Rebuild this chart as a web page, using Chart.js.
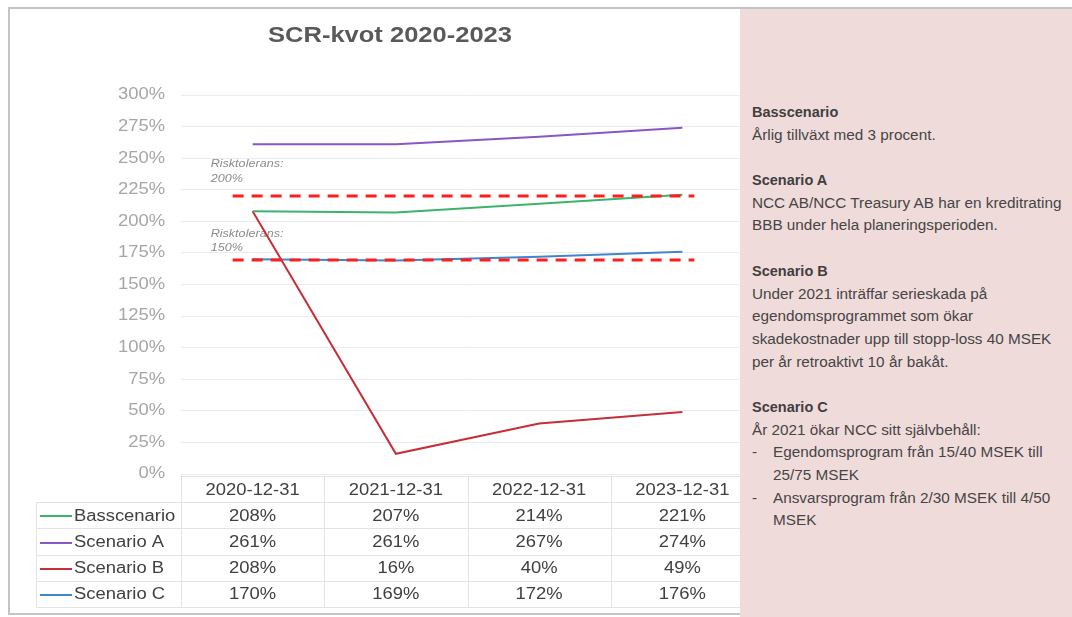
<!DOCTYPE html>
<html lang="sv">
<head>
<meta charset="utf-8">
<title>SCR-kvot 2020-2023</title>
<script src="https://cdn.jsdelivr.net/npm/chart.js@4.4.1/dist/chart.umd.min.js"></script>
<style>
  html, body { margin: 0; padding: 0; background: #fff; }
  body { width: 1072px; height: 617px; position: relative; overflow: hidden; font-family: "Liberation Sans", Arial, sans-serif; }
  #frame { position: absolute; left: 8px; top: 7px; width: 1080px; height: 608px; border: 2px solid #c4c4c4; box-sizing: border-box; }
  #chartBox { position: absolute; left: 0; top: 0; width: 760px; height: 617px; }
  #notes { position: absolute; left: 740px; top: 9px; width: 332px; height: 608px; background: #f0dbdb; color: #454545; box-sizing: border-box; padding: 92px 0 0 12px; }
  #notes div { height: 22.7px; line-height: 22.7px; white-space: nowrap; font-family: "Liberation Sans", Arial, sans-serif; font-size: 15.3px; }
  #notes div.h { font-weight: bold; font-size: 14.5px; color: #3f3f3f; }
  #notes div.b { position: relative; padding-left: 21px; }
  #notes div.b span { position: absolute; left: 0; }
</style>
</head>
<body>
<div id="frame"></div>
<div id="chartBox"><canvas id="scrChart" width="760" height="617"></canvas></div>
<div id="notes">
  <div class="h">Basscenario</div>
  <div>Årlig tillväxt med 3 procent.</div>
  <div></div>
  <div class="h">Scenario A</div>
  <div>NCC AB/NCC Treasury AB har en kreditrating</div>
  <div>BBB under hela planeringsperioden.</div>
  <div></div>
  <div class="h">Scenario B</div>
  <div>Under 2021 inträffar serieskada på</div>
  <div>egendomsprogrammet som ökar</div>
  <div>skadekostnader upp till stopp-loss 40 MSEK</div>
  <div>per år retroaktivt 10 år bakåt.</div>
  <div></div>
  <div class="h">Scenario C</div>
  <div>År 2021 ökar NCC sitt självbehåll:</div>
  <div class="b"><span>-</span>Egendomsprogram från 15/40 MSEK till</div>
  <div class="b">25/75 MSEK</div>
  <div class="b"><span>-</span>Ansvarsprogram från 2/30 MSEK till 4/50</div>
  <div class="b">MSEK</div>
</div>

<script>
// --- data ---
const categories = ['2020-12-31', '2021-12-31', '2022-12-31', '2023-12-31'];
const seriesNames = ['Basscenario', 'Scenario A', 'Scenario B', 'Scenario C'];
const basscenario = [208, 207, 214, 221];
const scenarioA = [261, 261, 267, 274];
const scenarioB = [208, 16, 40, 49];
const scenarioC = [170, 169, 172, 176];
const yTicks = [0, 25, 50, 75, 100, 125, 150, 175, 200, 225, 250, 275, 300];
const riskLevels = [220, 169];
const riskLabels = [['Risktolerans:', '200%'], ['Risktolerans:', '150%']];

const seriesValues = [basscenario, scenarioA, scenarioB, scenarioC];
const seriesColors = ['#3cb36a', '#8a55c4', '#c62f38', '#3f86cc'];

const TEXT = '#404040';
const FONT = '"Liberation Sans", Arial, sans-serif';
const STRETCH = 1.15; // originalet är lite utdraget i bredd

// text med horisontell skalning
function drawText(ctx, text, x, y, align, sx) {
  ctx.save();
  ctx.translate(x, y);
  ctx.scale(sx || STRETCH, 1);
  ctx.textAlign = align;
  ctx.fillText(text, 0, 0);
  ctx.restore();
}

// titel, y-etiketter, risknivåer och datatabell ritas av en egen plugin
const decorPlugin = {
  id: 'decor',
  beforeDatasetsDraw(chart) {
    const ctx = chart.ctx;
    const x = chart.scales.x, y = chart.scales.y;
    ctx.save();
    ctx.textBaseline = 'middle';

    // y-axelns etiketter
    ctx.fillStyle = '#a6a6a6';
    ctx.font = '16px ' + FONT;
    yTicks.forEach(v => {
      drawText(ctx, v + '%', chart.chartArea.left - 16, y.getPixelForValue(v), 'right');
    });

    // risktolerans-texter
    ctx.fillStyle = '#8c8c8c';
    ctx.font = 'italic 10.5px ' + FONT;
    const offsets = [[-32, -17], [-26, -12]];
    riskLevels.forEach((lvl, i) => {
      const py = y.getPixelForValue(lvl);
      const px = x.getPixelForValue(0) - 42;
      drawText(ctx, riskLabels[i][0], px, py + offsets[i][0], 'left', 1.2);
      drawText(ctx, riskLabels[i][1], px, py + offsets[i][1], 'left', 1.2);
    });
    ctx.restore();
  },
  afterDatasetsDraw(chart) {
    const ctx = chart.ctx;
    const x = chart.scales.x, y = chart.scales.y;
    ctx.save();
    ctx.strokeStyle = '#ff1e1e';
    ctx.lineWidth = 3;
    ctx.setLineDash([11, 8]);
    riskLevels.forEach(lvl => {
      const py = Math.round(y.getPixelForValue(lvl));
      ctx.beginPath();
      ctx.moveTo(x.getPixelForValue(0) - 20, py);
      ctx.lineTo(x.getPixelForValue(categories.length - 1) + 12, py);
      ctx.stroke();
    });
    ctx.restore();
  },
  afterDraw(chart) {
    const ctx = chart.ctx;
    const area = chart.chartArea;
    const x = chart.scales.x;
    ctx.save();

    // titel
    ctx.fillStyle = '#595959';
    ctx.font = 'bold 22px ' + FONT;
    ctx.textBaseline = 'middle';
    drawText(ctx, 'SCR-kvot 2020-2023', chart.width / 2 + 10, 36, 'center', 1.16);

    // datatabell
    const colW = (area.right - area.left) / categories.length;
    const rowH = 26.2;
    const top = area.bottom + 2;
    const keyLeft = 36;
    const bottom = top + rowH * (seriesNames.length + 1);

    ctx.strokeStyle = '#e3e3e3';
    ctx.lineWidth = 1;
    ctx.beginPath();
    ctx.moveTo(area.left, top + 0.5);
    ctx.lineTo(area.right, top + 0.5);
    for (let r = 1; r <= seriesNames.length + 1; r++) {
      const ry = Math.round(top + rowH * r) + 0.5;
      ctx.moveTo(keyLeft, ry);
      ctx.lineTo(area.right, ry);
    }
    ctx.moveTo(keyLeft + 0.5, top + rowH);
    ctx.lineTo(keyLeft + 0.5, bottom);
    for (let c = 0; c <= categories.length; c++) {
      const cx = Math.round(area.left + colW * c) + 0.5;
      ctx.moveTo(cx, top);
      ctx.lineTo(cx, bottom);
    }
    ctx.stroke();

    ctx.font = '16px ' + FONT;
    ctx.fillStyle = TEXT;
    ctx.textBaseline = 'middle';
    categories.forEach((cat, i) => {
      drawText(ctx, cat, x.getPixelForValue(i), top + rowH / 2 + 1, 'center');
    });
    seriesNames.forEach((name, r) => {
      const cy = top + rowH * (r + 1.5) + 1;
      ctx.strokeStyle = seriesColors[r];
      ctx.lineWidth = 2;
      ctx.beginPath();
      ctx.moveTo(keyLeft + 4, Math.round(cy));
      ctx.lineTo(keyLeft + 36, Math.round(cy));
      ctx.stroke();
      drawText(ctx, name, keyLeft + 38, cy, 'left');
      seriesValues[r].forEach((v, i) => {
        drawText(ctx, v + '%', x.getPixelForValue(i), cy, 'center');
      });
    });
    ctx.restore();
  }
};

new Chart(document.getElementById('scrChart'), {
  type: 'line',
  data: {
    labels: categories,
    datasets: seriesNames.map((name, i) => ({
      label: name,
      data: seriesValues[i],
      borderColor: seriesColors[i],
      backgroundColor: seriesColors[i],
      borderWidth: 2,
      pointRadius: 0,
      tension: 0,
      fill: false
    }))
  },
  options: {
    responsive: false,
    animation: false,
    devicePixelRatio: 1,
    layout: { padding: { left: 10, right: 6, top: 95, bottom: 143 } },
    plugins: {
      legend: { display: false },
      title: { display: false },
      tooltip: { enabled: false }
    },
    scales: {
      x: { display: false, offset: true },
      y: {
        min: 0,
        max: 300,
        afterBuildTicks: s => { s.ticks = yTicks.map(v => ({ value: v })); },
        afterFit: s => { s.width = 171; },
        border: { display: false },
        grid: { color: '#ebebeb', drawTicks: false },
        ticks: { display: false }
      }
    }
  },
  plugins: [decorPlugin]
});
</script>
</body>
</html>
